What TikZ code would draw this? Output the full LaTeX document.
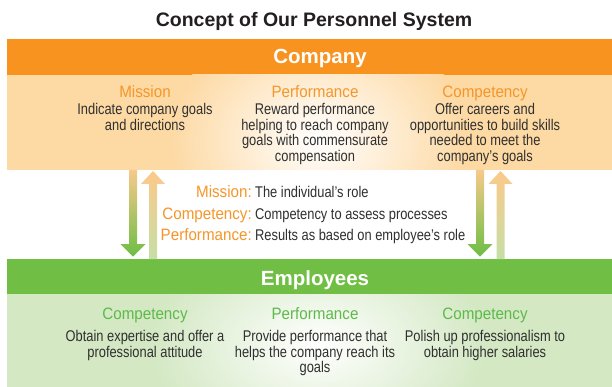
\documentclass[tikz,border=0pt]{standalone}
\usepackage{fontspec}
\setmainfont{Liberation Sans}
\newfontfamily\bodyf[FakeStretch=0.83]{Liberation Sans}
\newfontfamily\headf[FakeStretch=0.92]{Liberation Sans}
\definecolor{obar}{HTML}{F7931E}
\definecolor{olight}{HTML}{FDD9A3}
\definecolor{otext}{HTML}{F5962A}
\definecolor{gbar}{HTML}{70BF44}
\definecolor{glight}{HTML}{D3E8C3}
\definecolor{gtext}{HTML}{5DBA4A}
\definecolor{ink}{HTML}{303030}
\definecolor{titleink}{HTML}{231F20}
\definecolor{adtop}{HTML}{F7C98A}
\definecolor{adbot}{HTML}{6DBE45}
\definecolor{autop}{HTML}{FCC98A}
\definecolor{aubot}{HTML}{C6DFA6}
\newcommand\myDown[2]{\shade[top color=adtop,bottom color=adbot] ({#1-4},170) -- ({#1+4},170) -- ({#1+4},244) -- ({#1+12.5},244) -- (#1,256.7) -- ({#1-12.5},244) -- ({#1-4},244) -- cycle;
  \coordinate (#2) at (#1,256.7);}
\newcommand\myUp[2]{\shade[top color=autop,bottom color=aubot] ({#1-4},259) -- ({#1+4},259) -- ({#1+4},184) -- ({#1+12},184) -- (#1,171) -- ({#1-12},184) -- ({#1-4},184) -- cycle;
  \coordinate (#2) at (#1,171);}
\begin{document}
\begin{tikzpicture}[x=1pt,y=-1pt,
  barbox/.style={inner sep=0pt, minimum width=605pt, anchor=north west},
  bartext/.style={anchor=base, inner sep=0pt, text=white, font={\bfseries\fontsize{20.5pt}{24pt}\selectfont}},
  head/.style={anchor=base, inner sep=0pt, font={\headf\fontsize{16.5pt}{18pt}\selectfont}},
  body/.style={anchor=base, inner sep=0pt, align=center, text=ink, font={\bodyf\fontsize{15.5pt}{15.8pt}\selectfont}},
  midlabel/.style={anchor=base east, inner sep=0pt, text=otext, font={\headf\fontsize{16.5pt}{18pt}\selectfont}},
  midtext/.style={anchor=base west, inner sep=0pt, text=ink, font={\bodyf\fontsize{15.5pt}{18pt}\selectfont}}]
\useasboundingbox (0,0) rectangle (612,387);
\fill[white] (0,0) rectangle (612,387);
% title
\node[anchor=base, inner sep=0pt, text=titleink, font={\bfseries\fontsize{19.5pt}{22pt}\selectfont}] (title) at (314,27) {Concept of Our Personnel System};
% company
\node[barbox, fill=obar, minimum height=36pt] (companybar) at (7,39) {};
\node[bartext] (companylabel) at (320,64) {Company};
\begin{scope}
  \clip (7,75) rectangle (612,170);
  \fill[olight] (7,75) rectangle (612,170);
  \shade[inner color=white, outer color=olight] (318,140) ellipse (150pt and 120pt);
\end{scope}
\node[barbox, minimum height=95pt] (companybox) at (7,75) {};
\node[head, text=otext] (c1h) at (145,97.3) {Mission};
\node[body] (c1b) at (145,130.7) {Indicate company goals\\and directions};
\node[head, text=otext] (c2h) at (315,97.3) {Performance};
\node[body] (c2b) at (315,161.7) {Reward performance\\helping to reach company\\goals with commensurate\\compensation};
\node[head, text=otext] (c3h) at (485,97.3) {Competency};
\node[body] (c3b) at (485,161.7) {Offer careers and\\opportunities to build skills\\needed to meet the\\company’s goals};
% employees
\node[barbox, fill=gbar, minimum height=35pt] (empbar) at (7,259) {};
\node[bartext] (emplabel) at (315,285) {Employees};
\begin{scope}
  \clip (7,294) rectangle (612,387);
  \fill[glight] (7,294) rectangle (612,387);
  \shade[inner color=white, outer color=glight] (318,345) ellipse (170pt and 110pt);
\end{scope}
\node[barbox, minimum height=93pt] (empbox) at (7,294) {};
\node[head, text=gtext] (e1h) at (145,319.3) {Competency};
\node[body] (e1b) at (145,357.3) {Obtain expertise and offer a\\professional attitude};
\node[head, text=gtext] (e2h) at (315,319.3) {Performance};
\node[body] (e2b) at (315,372.9) {Provide performance that\\helps the company reach its\\goals};
\node[head, text=gtext] (e3h) at (485,319.3) {Competency};
\node[body] (e3b) at (485,357.3) {Polish up professionalism to\\obtain higher salaries};
% arrows
\myDown{133}{d1}
\myUp{153}{u1}
\myDown{480}{d2}
\myUp{500.5}{u2}
% middle
\node[midlabel] (m1) at (252,198) {Mission:};
\node[midtext] (m1t) at (255,198) {The individual’s role};
\node[midlabel] (m2) at (252,219) {Competency:};
\node[midtext] (m2t) at (255,219) {Competency to assess processes};
\node[midlabel] (m3) at (252,240) {Performance:};
\node[midtext] (m3t) at (255,240) {Results as based on employee’s role};
\end{tikzpicture}
\end{document}
